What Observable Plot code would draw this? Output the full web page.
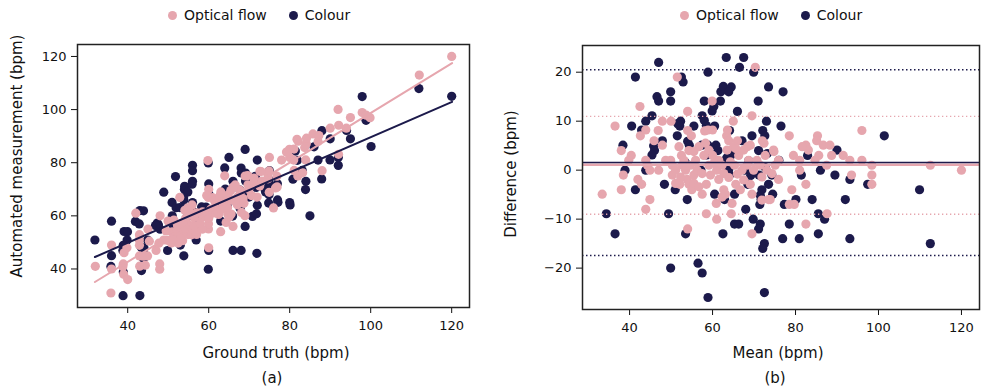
<!DOCTYPE html>
<html><head><meta charset="utf-8">
<script src="https://cdn.jsdelivr.net/npm/d3@7"></script>
<script src="https://cdn.jsdelivr.net/npm/@observablehq/plot@0.6"></script>
<style>
body{margin:0;background:#fff;font-family:"DejaVu Sans",sans-serif;}
#wrap{position:relative;width:986px;height:390px;overflow:hidden;background:#fff}
.panel{position:absolute;top:0}
.lab{position:absolute;font-size:15px;color:#111;white-space:nowrap;transform:translate(-50%,-50%)}
.ylab{position:absolute;font-size:15px;color:#111;white-space:nowrap;transform:translate(-50%,-50%) rotate(-90deg)}
.leg{position:absolute;top:15px;font-size:14px;color:#111;white-space:nowrap;transform:translateY(-50%);display:flex;align-items:center}
.sw{display:inline-block;width:9px;height:9px;border-radius:50%;margin-right:7px}
</style></head>
<body><div id="wrap"></div>
<script>
const pink = "#e6a6ae", navy = "#1c1a4b";

// Bland-Altman readings (mean, difference) per series
const colMean = [63.3,67.5,66.5,69.9,47.0,41.4,58.9,52.5,52.9,73.5,
77.0,49.9,62.0,62.6,64.5,63.9,46.6,47.0,49.9,58.0,
61.9,71.0,59.9,60.3,66.0,45.4,43.9,40.5,52.3,52.1,
51.6,57.5,58.0,58.5,60.5,73.0,76.5,72.1,42.9,55.5,
47.9,51.5,64.1,69.5,72.6,38.4,45.8,46.0,45.4,54.0,
54.4,57.4,58.9,67.1,64.7,71.1,64.3,76.0,90.0,82.9,
101.4,38.9,43.9,57.2,67.8,71.2,74.3,81.4,86.0,89.5,
64.1,68.5,73.5,48.4,41.4,51.0,93.1,97.4,109.9,60.5,
65.3,74.5,71.9,53.9,62.9,71.7,80.1,84.0,92.0,77.3,
71.4,34.4,49.4,68.0,85.5,87.0,69.8,65.3,66.3,71.5,
71.1,78.5,36.5,53.5,62.5,85.5,76.9,80.9,93.1,112.5,
72.5,72.1,49.9,56.5,57.5,58.9,72.5,
61.3,63.4,68.7,69.2,72.7,63.9,58.6,60.8,53.4,73.2,71.5];
const colDiff = [23,23,21,20,22,19,20,19,18,17,
16,16,16,17.1,17,16,15,14.1,14.1,14.1,
14.1,14.1,12.1,13,12,11.1,10,9,10,9,
9.5,11.1,10.2,9.1,9,10,9,8.1,8.2,9,
6,7,8.1,7,7,5.1,5,4,3.1,5.9,
5.1,5.1,5.1,6,4,4,2.9,2,4.1,3,
7,0,0,0,0,-1,-1,-1,0,-1,
-1,-2.9,-2.9,-2.9,-4,-4,-1.9,-2.9,-4,-4.9,
-4.9,-4.9,-4,-6,-6,-6,-6,-6,-6,-7,
-7,-8.9,-8.9,-8,-8.9,-10,-10,-11,-11,-11,
-12,-11,-13,-13,-13,-13,-14,-14,-14,-15,
-15,-16,-20,-19,-21,-26,-25,
4,2.5,1.9,-1.1,0.5,0.1,3.1,5.1,1.6,3.4,-5.1];

const ofMean = [70.3,51.5,59.9,42.5,54.0,69.5,36.5,47.9,50.0,42.6,
43.9,45.9,46.9,54.0,54.9,58.1,58.9,60.0,65.0,63.4,
63.9,66.0,69.1,72.0,78.5,85.3,96.0,38.0,40.4,39.8,
38.5,38.0,33.4,42.0,42.9,43.9,44.3,44.9,44.9,43.9,
47.0,48.7,49.9,47.9,50.3,52.5,52.1,52.7,53.5,53.9,
54.3,54.7,55.0,54.0,55.5,55.9,56.3,57.5,57.9,58.5,
58.5,59.1,59.5,60.0,61.0,61.0,61.5,61.5,62.3,62.7,
63.1,63.5,63.9,64.5,64.7,65.1,65.3,65.6,66.0,66.3,
66.7,67.5,67.5,68.3,68.7,69.1,69.5,69.5,69.9,70.7,
71.5,71.9,72.7,73.1,73.9,74.7,75.1,75.9,78.5,79.1,
79.5,79.7,81.0,81.0,82.5,82.5,82.5,83.1,84.7,85.1,
85.6,86.7,87.5,87.6,88.3,88.7,91.5,93.1,93.5,96.0,
98.4,98.4,98.4,112.5,120.0,75.9,73.5,51.1,50.3,52.3,
55.5,56.7,60.9,62.3,59.1,56.7,58.3,51.9,54.3,81.6,
72.4,65.6,68.4,74.8,63.6,51.1,57.5,60.3,64.3,67.1,
71.9,74.3,53.1,55.5,62.7];
const ofDiff = [21.0,19.0,14.1,13.0,12.0,11.1,9.0,10.0,10.0,7.0,
8.2,6.0,8.1,8.1,7.0,8.0,8.2,8.2,10.0,7.0,
6.0,6.0,5.1,6.0,7.0,7.0,8.1,4.0,3.0,2.0,
-1.0,-4.0,-4.9,-1.9,-2.9,2.0,1.0,0,-6.0,-8.0,
0,2.0,2.0,5.1,-1.0,3.0,-2.9,1.0,0,-1.9,
-2.9,1.0,-4.0,-12.0,-1.0,2.0,0,-4.9,3.0,-2.9,
-8.9,1.0,-1.0,3.0,-10.0,0,-1.9,2.0,1.0,-4.0,
-4.9,4.1,-1.5,-8.9,-6.8,4.8,1.0,-2.9,-0.8,3.0,
-4.0,4.1,-2.0,1.0,2.0,-2.9,-4.9,-13.0,0,2.0,
1.0,-6.1,3.0,0,-6.0,4.1,1.0,-1.9,-7.0,-4.0,
3.0,-7.0,2.0,0,-2.9,-11.0,5.1,4.1,2.0,6.0,
3.0,5.1,1.0,-8.9,5.1,3.0,3.0,2.0,-1.0,2.0,
1.0,-1.0,-2.9,1.0,0,2.0,-6.0,-2.7,1.0,-1.4,
-2.7,-3.4,-6.8,-5.5,4.1,4.8,5.5,4.8,4.0,4.8,
5.5,4.4,4.8,3.8,8.2,0,-0.7,1.4,1.7,0,
-1.4,-0.7,2.0,3.8,-0.7];

// fitted lines
const regX = [31.9, 120.1];
const ofRegY = [35.1, 117.5];
const colRegY = [44.5, 102.9];

// Bland-Altman bias and limits
const colBias = 1.58, colLoA = [-17.4, 20.5];
const ofBias = 1.1, ofLoA = [-9.0, 11.0];

const xTicks = [40, 60, 80, 100, 120];
const yTicksA = [40, 60, 80, 100, 120];
const yTicksB = [-20, -10, 0, 10, 20];

// tables
const toBA = (M, D) => M.map((m, i) => ({mean: m, diff: D[i], gt: m - D[i] / 2, meas: m + D[i] / 2}));
const colT = toBA(colMean, colDiff);
const ofT = toBA(ofMean, ofDiff);
const ofLine = regX.map((x, i) => ({x, y: ofRegY[i]}));
const colLine = regX.map((x, i) => ({x, y: colRegY[i]}));

const style = {fontFamily: "DejaVu Sans, sans-serif", fontSize: "13px", color: "#111", background: "transparent", overflow: "visible"};

const A = Plot.plot({
  width: 493, height: 390, marginLeft: 77, marginRight: 24, marginTop: 44, marginBottom: 83,
  style,
  x: {domain: [27.6, 124.4], ticks: xTicks, label: null, tickSize: 6, tickPadding: 7},
  y: {domain: [25.5, 124.5], ticks: yTicksA, label: null, tickSize: 6, tickPadding: 5},
  marks: [
    Plot.dot(colT, {x: "gt", y: "meas", r: 4.6, fill: navy}),
    Plot.dot(ofT, {x: "gt", y: "meas", r: 4.6, fill: pink}),
    Plot.line(ofLine, {x: "x", y: "y", stroke: pink, strokeWidth: 2}),
    Plot.line(colLine, {x: "x", y: "y", stroke: navy, strokeWidth: 2}),
    Plot.frame({stroke: "#222", strokeWidth: 1.5})
  ]
});

const B = Plot.plot({
  width: 493, height: 390, marginLeft: 89, marginRight: 7, marginTop: 45, marginBottom: 81,
  style,
  x: {domain: [28.65, 124.35], ticks: xTicks, label: null, tickSize: 6, tickPadding: 7},
  y: {domain: [-28.45, 25.45], ticks: yTicksB, label: null, tickSize: 6, tickPadding: 5},
  marks: [
    Plot.dot(colT, {x: "mean", y: "diff", r: 4.6, fill: navy}),
    Plot.dot(ofT, {x: "mean", y: "diff", r: 4.6, fill: pink}),
    Plot.ruleY(ofLoA, {stroke: pink, strokeWidth: 1.3, strokeDasharray: "1.3,2.7"}),
    Plot.ruleY(colLoA, {stroke: navy, strokeWidth: 1.5, strokeDasharray: "1.5,2.5"}),
    Plot.ruleY([ofBias], {stroke: pink, strokeWidth: 2.5}),
    Plot.ruleY([colBias], {stroke: navy, strokeWidth: 1.5}),
    Plot.frame({stroke: "#222", strokeWidth: 1.5})
  ]
});

const wrap = document.getElementById("wrap");
A.classList.add("panel"); A.style.left = "0px";
B.classList.add("panel"); B.style.left = "493px";
wrap.appendChild(A); wrap.appendChild(B);

function addDiv(cls, text, x, y) {
  const d = document.createElement("div");
  d.className = cls; d.textContent = text;
  d.style.left = x + "px"; d.style.top = y + "px";
  wrap.appendChild(d);
}
function addLegend(x) {
  const d = document.createElement("div");
  d.className = "leg"; d.style.left = x + "px";
  d.innerHTML = `<span class="sw" style="background:${pink}"></span><span>Optical flow</span>` +
    `<span class="sw" style="background:${navy};margin-left:22px"></span><span>Colour</span>`;
  wrap.appendChild(d);
}
addLegend(168);
addLegend(680);
addDiv("lab", "Ground truth (bpm)", 276, 353);
addDiv("lab", "(a)", 272, 378);
addDiv("lab", "Mean (bpm)", 778, 353);
addDiv("lab", "(b)", 775, 378);
addDiv("ylab", "Automated measurement (bpm)", 17, 156);
addDiv("ylab", "Difference (bpm)", 511, 174);
</script>
</body></html>
